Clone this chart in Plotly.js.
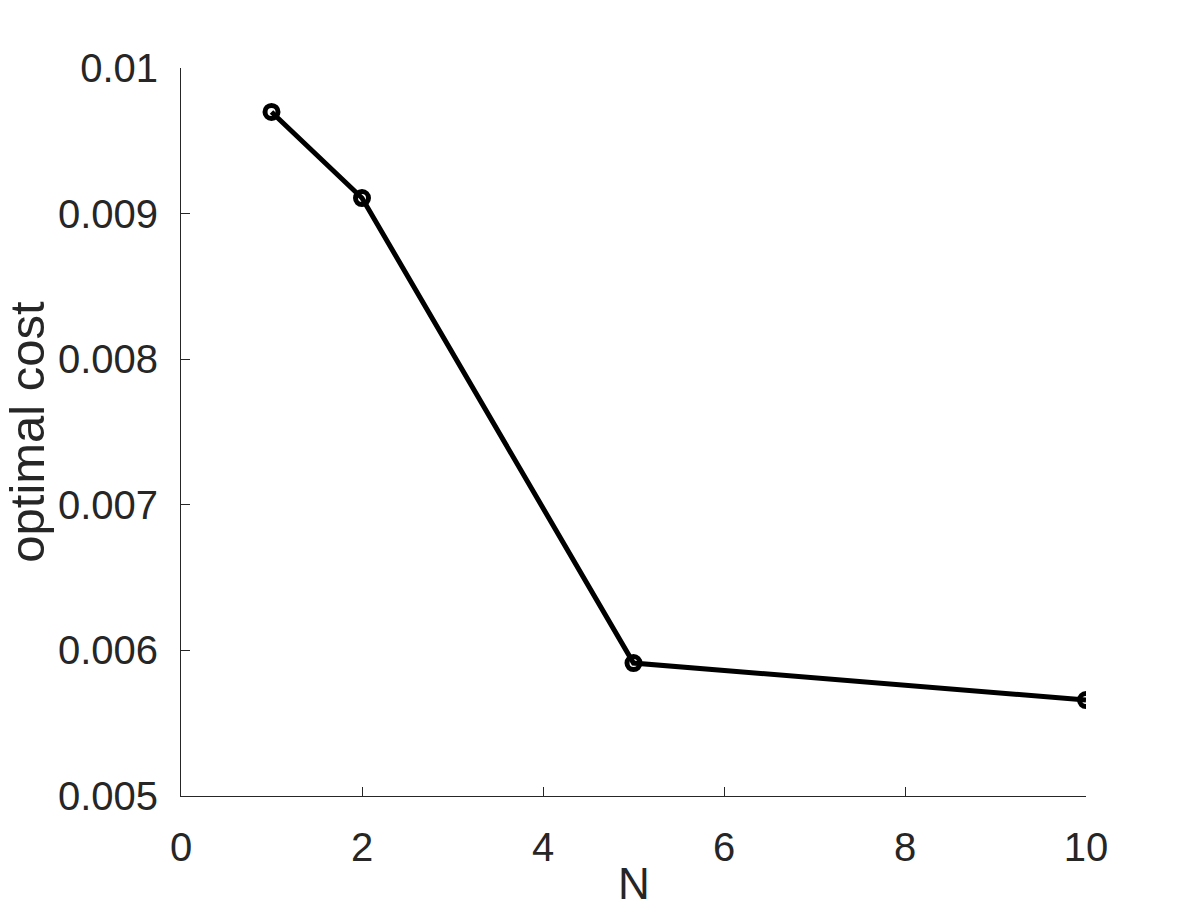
<!DOCTYPE html>
<html>
<head>
<meta charset="utf-8">
<script src="https://cdn.plot.ly/plotly-3.0.1.min.js"></script>
<style>html,body{margin:0;padding:0;background:#fff;}#chart{width:1200px;height:900px;}</style>
</head>
<body>
<div id="chart"></div>
<script>
const nValues = [1, 2, 5, 10];
const optimalCost = [0.009698, 0.009107, 0.005913, 0.005659];
const xTickVals = [0, 2, 4, 6, 8, 10];
const xTickText = ["0", "2", "4", "6", "8", "10"];
const yTickVals = [0.005, 0.006, 0.007, 0.008, 0.009, 0.01];
const yTickText = ["0.005", "0.006", "0.007", "0.008", "0.009", "0.01"];
const xTitle = 'N';
const yTitle = 'optimal cost';

const textColor = '#262626';
const fontFam = '"Liberation Sans", Arial, Helvetica, sans-serif';

const trace = {
  x: nValues,
  y: optimalCost,
  type: 'scatter',
  mode: 'lines+markers',
  line: {color: '#000000', width: 5},
  marker: {symbol: 'circle-open', size: 13, color: '#000000', line: {width: 5, color: '#000000'}},
  showlegend: false
};

const layout = {
  width: 1200,
  height: 900,
  margin: {l: 181, r: 114, t: 68, b: 104, pad: 0},
  paper_bgcolor: '#ffffff',
  plot_bgcolor: '#ffffff',
  font: {family: fontFam, size: 40, color: textColor},
  xaxis: {
    range: [0, 10],
    tickvals: xTickVals,
    ticktext: xTickText,
    ticks: 'inside',
    ticklen: 9,
    tickwidth: 1,
    tickcolor: textColor,
    showline: true,
    linecolor: textColor,
    linewidth: 1,
    mirror: false,
    showgrid: false,
    zeroline: false,
    ticklabelstandoff: 16,
    tickfont: {family: fontFam, size: 40, color: textColor}
  },
  yaxis: {
    range: [0.005, 0.01],
    tickvals: yTickVals,
    ticktext: yTickText,
    ticks: 'inside',
    ticklen: 9,
    tickwidth: 1,
    tickcolor: textColor,
    showline: true,
    linecolor: textColor,
    linewidth: 1,
    mirror: false,
    showgrid: false,
    zeroline: false,
    ticklabelstandoff: 14,
    tickfont: {family: fontFam, size: 40, color: textColor},
    title: {text: yTitle, font: {family: fontFam, size: 49, color: textColor}, standoff: 4}
  },
  annotations: [{
    text: xTitle,
    xref: 'paper', yref: 'paper',
    x: 0.5, y: 0,
    xanchor: 'center', yanchor: 'top',
    yshift: -61,
    showarrow: false,
    font: {family: fontFam, size: 44, color: textColor}
  }]
};

Plotly.newPlot('chart', [trace], layout, {displayModeBar: false, staticPlot: true});
</script>
</body>
</html>
